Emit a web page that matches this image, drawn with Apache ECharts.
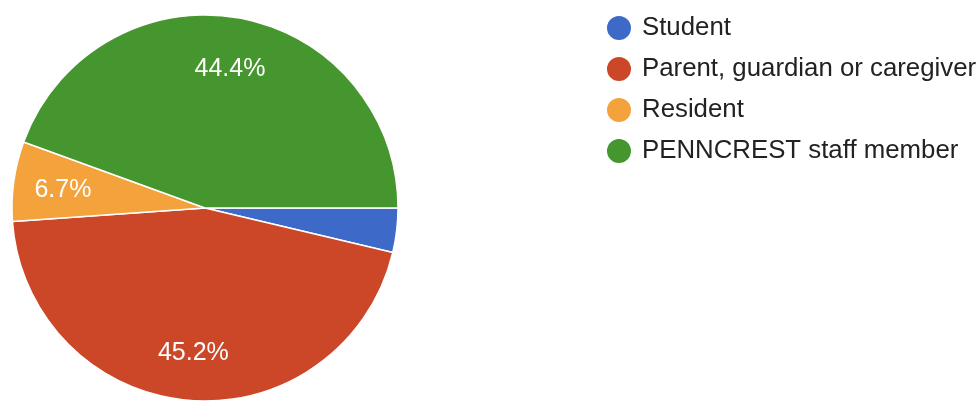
<!DOCTYPE html>
<html>
<head>
<meta charset="utf-8">
<script src="https://cdn.jsdelivr.net/npm/echarts@6/dist/echarts.min.js"></script>
<style>
html,body{margin:0;padding:0;background:#fff;}
#chart{width:980px;height:403px;}
</style>
</head>
<body>
<div id="chart"></div>
<script>
const categories = ['Student', 'Parent, guardian or caregiver', 'Resident', 'PENNCREST staff member'];
const counts = [5, 61, 9, 60];
const colors = ['#3d69c9', '#cc4628', '#f4a23b', '#46962f'];

const chart = echarts.init(document.getElementById('chart'), null, {renderer: 'canvas'});
const pieData = categories.map((c, i) => ({name: c, value: counts[i], itemStyle: {color: colors[i]}}));
const labelData = categories.map((c, i) => ({name: c, value: counts[i], itemStyle: {color: 'rgba(0,0,0,0)'}}));

chart.setOption({
  animation: false,
  color: colors,
  legend: {
    orient: 'vertical',
    left: 605,
    top: 14,
    padding: 0,
    icon: 'circle',
    itemWidth: 26,
    itemHeight: 26,
    itemGap: 13,
    textStyle: {fontFamily: 'Liberation Sans, Arial, sans-serif', fontSize: 25.8, color: '#222222', padding: [0, 0, 0, 5]},
    data: categories
  },
  series: [
    {
      type: 'pie',
      center: [205, 208],
      radius: [0, 193],
      startAngle: 0,
      clockwise: true,
      avoidLabelOverlap: false,
      label: {show: false},
      labelLine: {show: false},
      itemStyle: {borderColor: '#ffffff', borderWidth: 1.5},
      emphasis: {disabled: true},
      data: pieData
    },
    {
      type: 'pie',
      center: [205, 208],
      radius: [88, 193],
      startAngle: 0,
      clockwise: true,
      silent: true,
      avoidLabelOverlap: false,
      percentPrecision: 1,
      label: {
        show: true,
        position: 'inside',
        color: '#ffffff',
        fontFamily: 'Liberation Sans, Arial, sans-serif',
        fontSize: 25,
        offset: [0, 2],
        formatter: p => p.percent < 5 ? '' : p.percent.toFixed(1) + '%'
      },
      labelLine: {show: false},
      itemStyle: {borderWidth: 0},
      emphasis: {disabled: true},
      data: labelData
    }
  ]
});
</script>
</body>
</html>
